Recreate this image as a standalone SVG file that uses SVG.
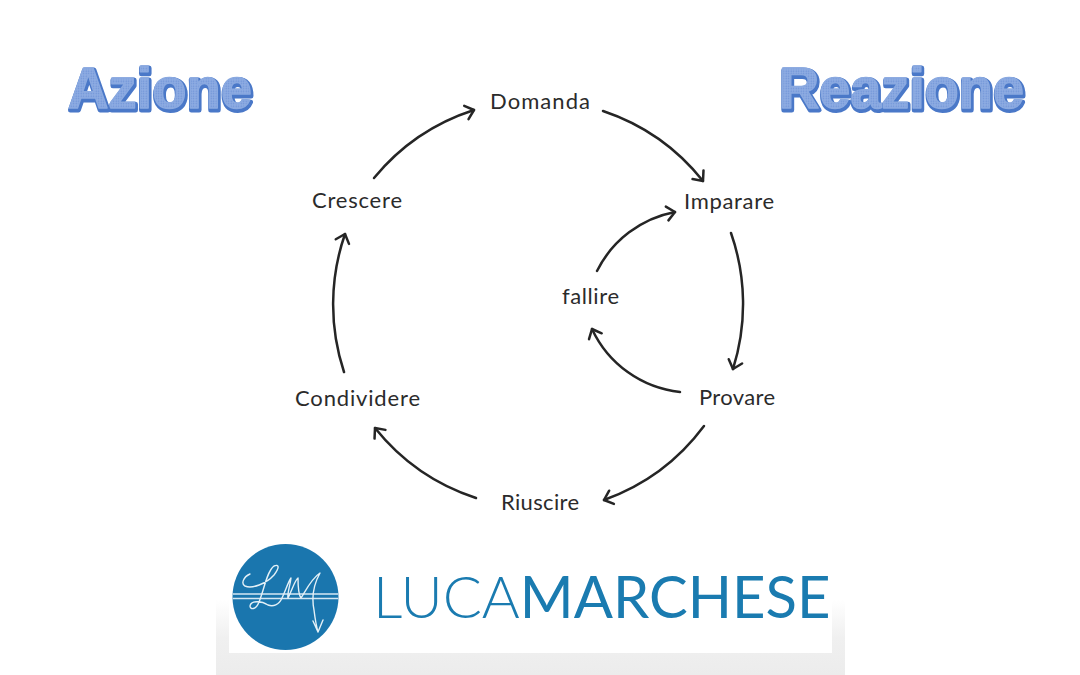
<svg xmlns="http://www.w3.org/2000/svg" width="1080" height="675" viewBox="0 0 1080 675">
<style>
.n{font-family:"Lato","Liberation Sans",sans-serif;font-size:22px;fill:#2b2b2b;text-anchor:middle}
.c{fill:none;stroke:#252525;stroke-width:2.5;stroke-linecap:round;marker-end:url(#a)}
.t{font-family:"Liberation Sans",Arial,sans-serif;font-weight:700;font-size:58px;fill:url(#dots);stroke:#8aa9e0;stroke-width:1.500;stroke-linejoin:round}
.s{font-family:"Liberation Sans",Arial,sans-serif;font-weight:700;font-size:58px;fill:#4a78c8;stroke:#4a78c8;stroke-width:5;stroke-linejoin:round}
.l{font-family:"Lato","Liberation Sans",sans-serif;font-size:58px;fill:#1a7bb0}
</style>
<defs>
<marker id="a" markerUnits="userSpaceOnUse" markerWidth="24" markerHeight="24" refX="15" refY="12" orient="auto">
<path d="M7 5L15 12L7 19" fill="none" stroke="#252525" stroke-width="2.500" stroke-linecap="round" stroke-linejoin="round"/>
</marker>
<pattern id="dots" width="2.500" height="2.500" patternUnits="userSpaceOnUse">
<rect width="2.500" height="2.500" fill="#8fade3"/><circle cx="1.200" cy="1.200" r=".7" fill="#6b90d6"/>
</pattern>
<linearGradient id="g" x1="0" y1="0" x2="0" y2="1"><stop offset="0" stop-color="#fff"/><stop offset=".5" stop-color="#f0f0f0"/><stop offset="1" stop-color="#ececec"/></linearGradient>
</defs>
<rect width="1080" height="675" fill="#fff"/>
<g id="connectors">
<path class="c" d="M374 178A215 215 0 0 1 474 110"/>
<path class="c" d="M603 111A215 215 0 0 1 703 181"/>
<path class="c" d="M731 233A215 215 0 0 1 733 369"/>
<path class="c" d="M704 426A215 215 0 0 1 604 500"/>
<path class="c" d="M476 498A215 215 0 0 1 375 428"/>
<path class="c" d="M344 372A215 215 0 0 1 345 234"/>
<path class="c" d="M597 271A110 110 0 0 1 675 212"/>
<path class="c" d="M680 392A110 110 0 0 1 592 329"/>
</g>
<g id="node-domanda"><text class="n" x="540" y="109" textLength="100">Domanda</text></g>
<g id="node-imparare"><text class="n" x="729" y="209" textLength="90">Imparare</text></g>
<g id="node-provare"><text class="n" x="737" y="405" textLength="76">Provare</text></g>
<g id="node-riuscire"><text class="n" x="540" y="510" textLength="78">Riuscire</text></g>
<g id="node-condividere"><text class="n" x="357.500" y="406" textLength="125">Condividere</text></g>
<g id="node-crescere"><text class="n" x="357" y="208" textLength="90">Crescere</text></g>
<g id="node-fallire"><text class="n" x="590.500" y="304" textLength="57">fallire</text></g>
<g id="title-azione">
<text class="s" x="69" y="109.500" textLength="184" lengthAdjust="spacingAndGlyphs">Azione</text>
<text class="t" x="68" y="108" textLength="184" lengthAdjust="spacingAndGlyphs">Azione</text>
</g>
<g id="title-reazione">
<text class="s" x="780" y="109.500" textLength="245" lengthAdjust="spacingAndGlyphs">Reazione</text>
<text class="t" x="779" y="108" textLength="245" lengthAdjust="spacingAndGlyphs">Reazione</text>
</g>
<g id="logo">
<rect x="216" y="600" width="629" height="75" fill="url(#g)"/>
<rect x="229" y="540" width="603" height="113" fill="#fff"/>
<ellipse cx="285.500" cy="597" rx="53" ry="53" fill="#1a76ae"/>
<path d="M233 594H338M233 598.500H338" stroke="#d5e8f3" stroke-width="1.600" fill="none"/>
<path d="M250 574C243 577 241 584 245 586C252 589 266 584 274 575C280 567 279 564 274 566C267 571 264 590 259 602C256 610 250 610 250 606C251 600 262 601 268 605C273 607 279 605 282 598C286 590 288 582 291 578C290 586 287 594 288 598C292 590 295 580 298 578C298 586 298 594 301 598C306 590 312 578 320 573C315 582 311 595 314 610C315 618 316 625 318 632M313 621L318 632L323 620" fill="none" stroke="#e3f0f7" stroke-width="1.400" stroke-linecap="round" stroke-linejoin="round"/>
<text class="l" x="373" y="618"><tspan font-weight="300">LUCA</tspan><tspan font-weight="400">MARCHESE</tspan></text>
</g>
</svg>
